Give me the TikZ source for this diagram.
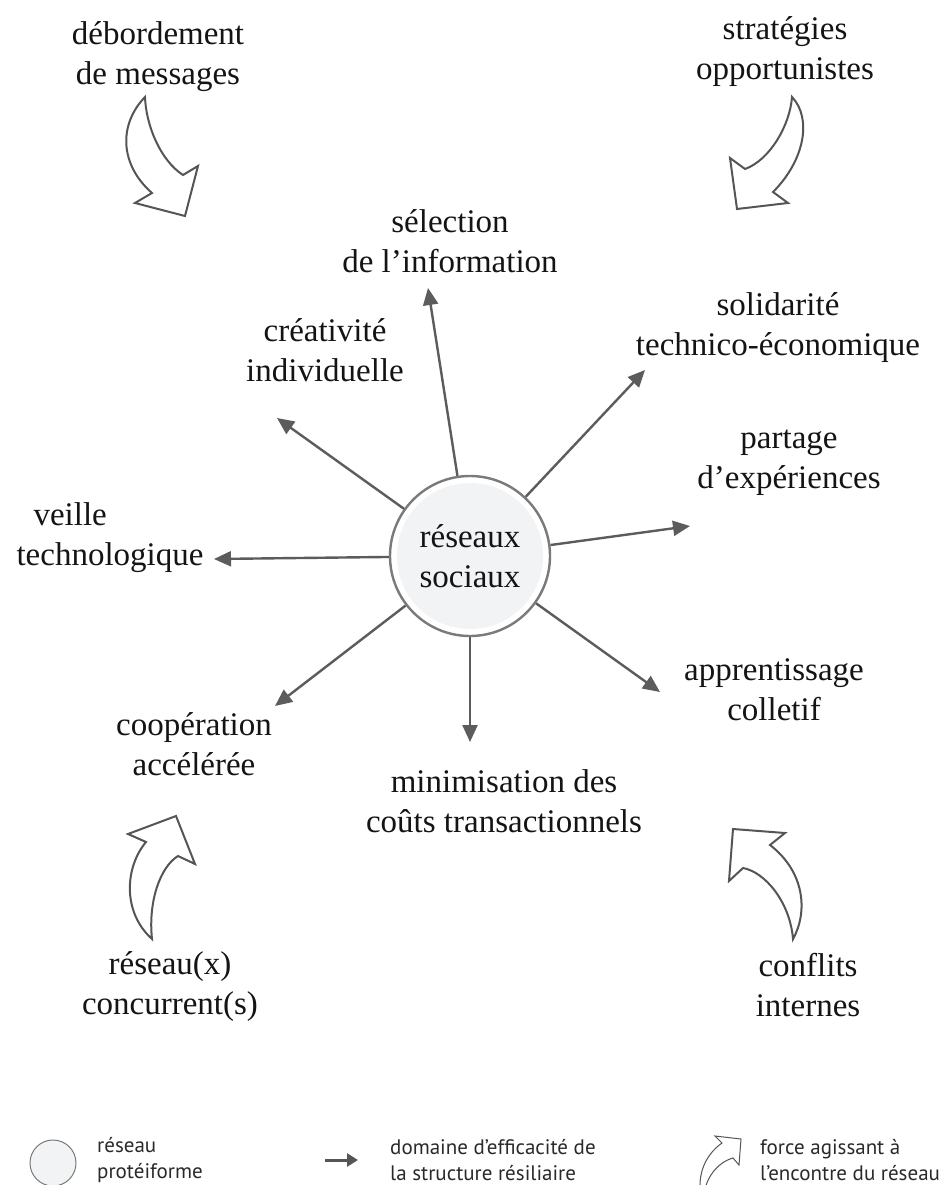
\documentclass[tikz,border=0pt]{standalone}
\usepackage{fontspec}
\setmainfont{Liberation Serif}
\newfontfamily\legfont{PT Sans}
\usetikzlibrary{arrows.meta}
\definecolor{arrgray}{HTML}{5C5C5C}
\definecolor{ringgray}{HTML}{7A7A7A}
\definecolor{cfill}{HTML}{F2F3F5}
\definecolor{shapegray}{HTML}{555555}
\definecolor{txt}{HTML}{141414}
\definecolor{legtxt}{HTML}{2A2A2A}
\begin{document}
\begin{tikzpicture}[x=1pt,y=-1pt,
  lbl/.style={align=center,inner sep=0pt,text=txt,font=\fontsize{33}{40}\selectfont},
  legtext/.style={align=left,anchor=west,inner sep=0pt,text=legtxt,font=\legfont\fontsize{21}{26}\selectfont},
  ray/.style={draw=arrgray,line width=2.4pt,-{Triangle[length=17pt,width=15pt]}},
  force/.style={draw=shapegray,line width=2pt,fill=white,line join=miter},
  hub/.style={circle,minimum size=160pt,inner sep=0pt,draw=ringgray,line width=2.4pt,align=center,text=txt,font=\fontsize{33}{40}\selectfont}]
\useasboundingbox (0,0) rectangle (943,1185);
\fill[white] (0,0) rectangle (943,1185);

% forces (block arrows)
\draw[force] (145,97) .. controls (118,125) and (120,165) .. (152,193) -- (135,203) -- (185,216) -- (198,166) -- (183,175) .. controls (160,160) and (146,125) .. cycle;
\draw[force] (792,97) .. controls (812,118) and (805,160) .. (773,192) -- (788,203) -- (737,209) -- (730,158) -- (745,169) .. controls (770,160) and (790,125) .. cycle;
\draw[force] (152,939) .. controls (122,912) and (125,867) .. (146,842) -- (128,834) -- (176,816) -- (195,864) -- (178,856) .. controls (160,867) and (148,902) .. cycle;
\draw[force] (793,939) .. controls (808,912) and (805,872) .. (770,845) -- (785,833) -- (733,829) -- (729,881) -- (743,868) .. controls (765,872) and (790,902) .. cycle;

% hub
\fill[white] (470,556) circle (80);
\fill[cfill] (470,556) circle (73);
\node[hub] (c) at (470,556) {réseaux\\sociaux};

% labels
\node[lbl] (deb) at (158,57) {débordement\\de messages};
\node[lbl] (strat) at (785,52) {stratégies\\opportunistes};
\node[lbl] (sel) at (450,241) {sélection\\de l’information};
\node[lbl] (sol) at (778,328) {solidarité\\technico-économique};
\node[lbl] (crea) at (325,350) {créativité\\individuelle};
\node[lbl] (part) at (789,463) {partage\\d’expériences};
\node[lbl,align=left] (veil) at (110,538) {\hspace*{17pt}veille\\technologique};
\node[lbl] (appr) at (774,690) {apprentissage\\colletif};
\node[lbl] (coop) at (194,744) {coopération\\accélérée};
\node[lbl] (mini) at (504,801) {minimisation des\\coûts transactionnels};
\node[lbl] (resx) at (170,987) {réseau(x)\\concurrent(s)};
\node[lbl] (conf) at (808,985) {conflits\\internes};

% ray tips
\coordinate (tSel) at (428,288);
\coordinate (tSol) at (645,370);
\coordinate (tCrea) at (277,418);
\coordinate (tPart) at (690,526);
\coordinate (tVeil) at (214,559);
\coordinate (tAppr) at (660,692);
\coordinate (tMini) at (470,742);
\coordinate (tCoop) at (275,706);
\foreach \t in {tSel,tSol,tCrea,tPart,tVeil,tAppr,tMini,tCoop}
  \draw[ray] (c) -- (\t);

% legend
\node[circle,minimum size=46pt,inner sep=0pt,draw=ringgray,line width=1pt,fill=cfill] (lc) at (53,1163) {};
\node[legtext] (l1) at (97,1160) {réseau\\protéiforme};
\coordinate (la0) at (325,1160);
\coordinate (la1) at (358,1160);
\draw[draw=shapegray,line width=3pt,-{Triangle[length=11pt,width=13pt]}] (la0) -- (la1);
\node[legtext] (l2) at (390,1160) {domaine d’efficacité de\\la structure résiliaire};
\draw[draw=shapegray,line width=1pt,fill=white] (701,1196) .. controls (697,1175) and (705,1155) .. (722,1143) -- (715,1136) -- (741,1139) -- (739,1165) -- (733,1158) .. controls (718,1162) and (705,1178) .. (704,1196);
\node[legtext] (l3) at (760,1160) {force agissant à\\l’encontre du réseau};
\end{tikzpicture}
\end{document}
